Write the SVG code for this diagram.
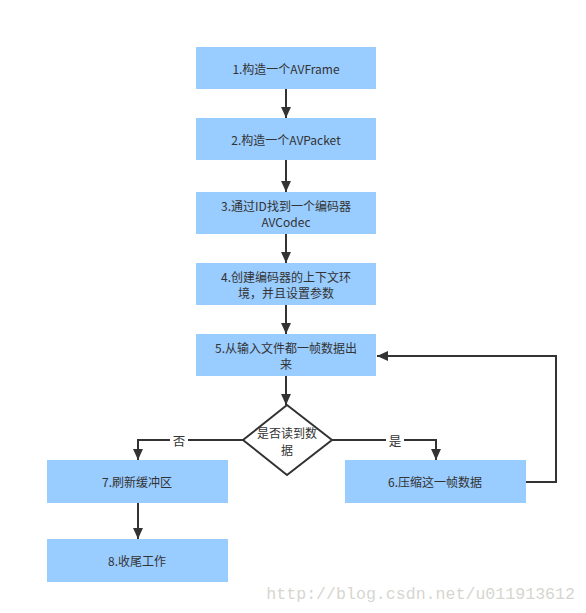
<svg xmlns="http://www.w3.org/2000/svg" width="586" height="613" viewBox="0 0 586 613">
<defs>
<style>
.box{fill:#99ccff;}
.t{font-family:"Noto Sans CJK SC","Noto Sans",sans-serif;font-size:12px;fill:#333;text-anchor:middle;dominant-baseline:central;}
.c{fill:none;stroke:#333;stroke-width:2;}
.lbl{font-family:"Noto Sans CJK SC",sans-serif;font-size:12.5px;fill:#333;text-anchor:middle;dominant-baseline:central;}
</style>
<marker id="ah" viewBox="0 0 10 10" refX="10" refY="5" markerWidth="5.5" markerHeight="5.5" orient="auto" markerUnits="strokeWidth">
<path d="M0,0.5 L10,5 L0,9.5 z" fill="#333"/>
</marker>
</defs>
<rect width="586" height="613" fill="#fff"/>
<g id="connectors">
<line class="c" x1="286" y1="89" x2="286" y2="118" marker-end="url(#ah)"/>
<line class="c" x1="286" y1="160" x2="286" y2="192" marker-end="url(#ah)"/>
<line class="c" x1="286" y1="234" x2="286" y2="263" marker-end="url(#ah)"/>
<line class="c" x1="286" y1="305" x2="286" y2="334" marker-end="url(#ah)"/>
<line class="c" x1="286" y1="376" x2="286" y2="405" marker-end="url(#ah)"/>
<polyline class="c" points="243,440 138,440 138,460" marker-end="url(#ah)"/>
<polyline class="c" points="332,440 436,440 436,460" marker-end="url(#ah)"/>
<polyline class="c" points="526,482 556,482 556,356 377,356" marker-end="url(#ah)"/>
<line class="c" x1="138" y1="503" x2="138" y2="539" marker-end="url(#ah)"/>
<rect x="170" y="432" width="18" height="16" fill="#fff"/>
<text class="lbl" x="179" y="440">否</text>
<rect x="386" y="432" width="18" height="16" fill="#fff"/>
<text class="lbl" x="395" y="440">是</text>
</g>
<g id="n1"><rect class="box" x="196" y="47" width="180" height="42"/><text class="t" x="286" y="68">1.构造一个AVFrame</text></g>
<g id="n2"><rect class="box" x="196" y="118" width="180" height="42"/><text class="t" x="286" y="139">2.构造一个AVPacket</text></g>
<g id="n3"><rect class="box" x="196" y="192" width="180" height="42"/><text class="t" x="286" y="205">3.通过ID找到一个编码器</text><text class="t" x="286" y="221.5">AVCodec</text></g>
<g id="n4"><rect class="box" x="196" y="263" width="180" height="42"/><text class="t" x="286" y="276">4.创建编码器的上下文环</text><text class="t" x="286" y="292.5">境，并且设置参数</text></g>
<g id="n5"><rect class="box" x="196" y="334" width="180" height="42"/><text class="t" x="286" y="347">5.从输入文件都一帧数据出</text><text class="t" x="286" y="363.5">来</text></g>
<g id="d1"><polygon points="287,405 332,440 287,475 243,440" fill="#fff" stroke="#333" stroke-width="2"/><text class="t" x="287" y="432">是否读到数</text><text class="t" x="287" y="449">据</text></g>
<g id="n7"><rect class="box" x="47" y="460" width="181" height="43"/><text class="t" x="137" y="481">7.刷新缓冲区</text></g>
<g id="n6"><rect class="box" x="345" y="460" width="181" height="43"/><text class="t" x="435" y="481">6.压缩这一帧数据</text></g>
<g id="n8"><rect class="box" x="47" y="539" width="181" height="43"/><text class="t" x="137" y="560">8.收尾工作</text></g>
<text x="575" y="599" font-family="'Liberation Mono',monospace" font-size="16.6" fill="#d6d6d0" text-anchor="end">http://blog.csdn.net/u011913612</text>
</svg>
